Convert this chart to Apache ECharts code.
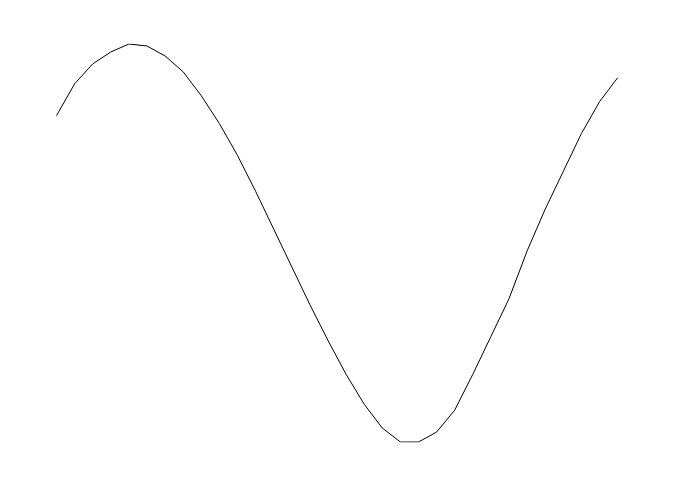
<!DOCTYPE html>
<html>
<head>
<meta charset="utf-8">
<script src="https://cdn.jsdelivr.net/npm/echarts@6/dist/echarts.min.js"></script>
<style>html,body{margin:0;padding:0;background:#fff;}#c{width:677px;height:504px;}</style>
</head>
<body>
<div id="c"></div>
<script>
var xs = [0,1,2,3,4,5,6,7,8,9,10,11,12,13,14,15,16,17,18,19,20,21,22,23,24,25,26,27,28,29,30,31];
var ys = [0.64,0.80,0.90,0.96,1.00,0.99,0.94,0.86,0.74,0.60,0.44,0.26,0.07,-0.12,-0.31,-0.49,-0.66,-0.81,-0.93,-1.00,-1.00,-0.95,-0.84,-0.66,-0.47,-0.28,-0.04,0.17,0.36,0.55,0.71,0.83];

var data = xs.map(function(x, i){ return [x, ys[i]]; });
var chart = echarts.init(document.getElementById('c'), null, {renderer: 'canvas'});
chart.setOption({
  animation: false,
  backgroundColor: '#ffffff',
  grid: {left: 56.5, right: 59.4, top: 44, bottom: 62},
  xAxis: {type: 'value', min: 0, max: 31, show: false},
  yAxis: {type: 'value', min: -1, max: 1, show: false},
  series: [{
    type: 'line',
    data: data,
    showSymbol: false,
    lineStyle: {color: '#000000', width: 1},
    silent: true
  }]
});
</script>
</body>
</html>
